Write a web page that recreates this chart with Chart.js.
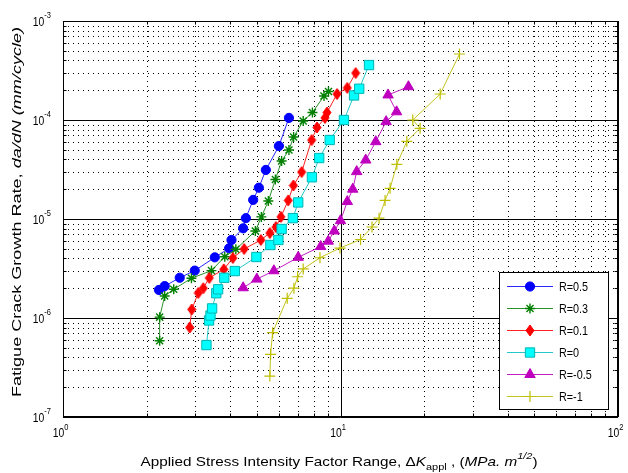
<!DOCTYPE html>
<html>
<head>
<meta charset="utf-8">
<script src="https://cdn.jsdelivr.net/npm/chart.js@4.4.0/dist/chart.umd.min.js"></script>
<style>
html,body{margin:0;padding:0;background:#fff;overflow:hidden;}
canvas{display:block;}
</style>
</head>
<body>
<canvas id="c" width="628" height="473"></canvas>
<script>
// ---------------- DATA ----------------
const seriesLabels = ['R=0.5', 'R=0.3', 'R=0.1', 'R=0', 'R=-0.5', 'R=-1'];

const K_R05 = [2.217, 2.325, 2.634, 2.984, 3.524, 3.968, 4.048, 4.459, 4.560, 4.845, 5.079, 5.383, 5.998, 6.520];
const dadN_R05 = [1.92e-6, 2.10e-6, 2.55e-6, 3.01e-6, 4.10e-6, 5.06e-6, 6.14e-6, 8.05e-6, 1.02e-5, 1.56e-5, 2.07e-5, 3.13e-5, 5.46e-5, 1.05e-4];

const K_R03 = [2.230, 2.230, 2.325, 2.506, 2.903, 3.428, 3.828, 4.196, 4.934, 5.186, 5.496, 5.826, 6.134, 6.520, 6.776, 7.338, 7.922, 8.719, 9.051];
const dadN_R03 = [5.90e-7, 1.02e-6, 1.67e-6, 1.95e-6, 2.52e-6, 3.01e-6, 4.16e-6, 4.94e-6, 7.57e-6, 1.05e-5, 1.52e-5, 2.51e-5, 3.85e-5, 4.98e-5, 6.73e-5, 9.77e-5, 1.19e-4, 1.75e-4, 1.94e-4];

const K_R01 = [2.862, 2.910, 3.072, 3.202, 3.366, 3.797, 4.093, 4.495, 5.164, 5.565, 5.851, 6.099, 6.481, 6.766, 7.245, 7.870, 8.226, 8.791, 8.939, 9.714, 10.58, 11.34];
const dadN_R01 = [8.02e-7, 1.22e-6, 1.79e-6, 2.00e-6, 2.54e-6, 3.10e-6, 4.04e-6, 4.98e-6, 6.14e-6, 7.22e-6, 8.30e-6, 1.05e-5, 1.54e-5, 2.18e-5, 2.98e-5, 6.28e-5, 8.40e-5, 1.05e-4, 1.19e-4, 1.83e-4, 2.11e-4, 2.98e-4];

const K_R0 = [3.288, 3.360, 3.400, 3.445, 3.567, 3.622, 3.813, 4.161, 4.976, 5.589, 5.973, 6.134, 6.737, 7.041, 7.889, 8.379, 9.142, 10.29, 11.19, 11.68, 12.67];
const dadN_R0 = [5.33e-7, 9.44e-7, 1.06e-6, 1.25e-6, 1.78e-6, 1.95e-6, 2.55e-6, 2.98e-6, 4.13e-6, 5.46e-6, 6.14e-6, 7.92e-6, 1.02e-5, 1.47e-5, 2.64e-5, 4.13e-5, 6.28e-5, 1.00e-4, 1.77e-4, 2.07e-4, 3.59e-4];

const K_Rm05 = [4.459, 4.995, 5.754, 7.041, 8.484, 9.036, 9.498, 10.00, 10.58, 11.07, 11.44, 12.33, 13.40, 14.60, 15.93, 14.84, 17.57];
const dadN_Rm05 = [2.02e-6, 2.47e-6, 3.00e-6, 4.10e-6, 5.27e-6, 5.97e-6, 7.57e-6, 9.62e-6, 1.50e-5, 2.00e-5, 3.01e-5, 3.94e-5, 6.04e-5, 9.62e-5, 1.21e-4, 1.79e-4, 2.17e-4];

const K_Rm1 = [5.565, 5.598, 5.692, 6.426, 6.795, 7.008, 7.338, 8.434, 9.958, 11.81, 12.99, 13.77, 14.47, 15.09, 15.96, 17.34, 19.36, 18.22, 22.87, 26.84];
const dadN_Rm1 = [2.59e-7, 4.30e-7, 7.11e-7, 1.58e-6, 2.00e-6, 2.61e-6, 3.13e-6, 4.06e-6, 5.09e-6, 6.21e-6, 8.30e-6, 1.02e-5, 1.54e-5, 2.04e-5, 3.57e-5, 6.09e-5, 8.24e-5, 1.00e-4, 1.83e-4, 4.64e-4];

// axis ranges and tick labels
const xRange = [1, 100];
const yRange = [1e-7, 1e-3];
const xTickValues = [1, 10, 100];
const xTickExps = ['0', '1', '2'];
const yTickValues = [1e-7, 1e-6, 1e-5, 1e-4, 1e-3];
const yTickExps = ['-7', '-6', '-5', '-4', '-3'];

const xTitleRuns = [
  {t: 'Applied Stress Intensity Factor Range, \u0394', it: false},
  {t: 'K', it: true},
  {t: 'appl', it: false, sub: true},
  {t: ' , (', it: false},
  {t: 'MPa. m', it: true},
  {t: '1/2', it: true, sup: true},
  {t: ')', it: false}
];
const yTitleRuns = [
  {t: 'Fatigue Crack Growth Rate, ', it: false},
  {t: 'da/dN (mm/cycle)', it: true}
];

// ---------------- STYLE ----------------
const FONT = '"Liberation Sans", Arial, Helvetica, sans-serif';

function makeDiamond(w, h, fill) {
  const c = document.createElement('canvas');
  c.width = w + 2; c.height = h + 2;
  const g = c.getContext('2d');
  g.fillStyle = fill; g.strokeStyle = fill; g.lineWidth = 1;
  g.beginPath();
  g.moveTo(c.width / 2, 1); g.lineTo(c.width - 1, c.height / 2);
  g.lineTo(c.width / 2, c.height - 1); g.lineTo(1, c.height / 2);
  g.closePath(); g.fill(); g.stroke();
  return c;
}
const diamondRed = makeDiamond(8, 11, '#ff0000');

const styles = [
  {line: '#2828ff', fill: '#0000ff', edge: '#0000ff', ps: 'circle', r: 4.6, bw: 1},
  {line: '#2a922a', fill: '#008000', edge: '#008000', ps: 'star', r: 5, bw: 1.4},
  {line: '#ff2020', fill: '#ff0000', edge: '#ff0000', ps: diamondRed, r: 5, bw: 0},
  {line: '#20c8c8', fill: '#00ffff', edge: '#00b4b4', ps: 'rect', r: 6.6, bw: 1},
  {line: '#c020c0', fill: '#bf00bf', edge: '#bf00bf', ps: 'triangle', r: 6, bw: 1},
  {line: '#c4c420', fill: '#bfbf00', edge: '#bfbf00', ps: 'cross', r: 5.5, bw: 1.2}
];

const Ks = [K_R05, K_R03, K_R01, K_R0, K_Rm05, K_Rm1];
const Ds = [dadN_R05, dadN_R03, dadN_R01, dadN_R0, dadN_Rm05, dadN_Rm1];

const datasets = seriesLabels.map((lab, i) => ({
  label: lab,
  data: Ks[i].map((k, j) => ({x: k, y: Ds[i][j]})),
  showLine: true,
  borderColor: styles[i].line,
  borderWidth: 1,
  tension: 0,
  pointStyle: styles[i].ps,
  pointRadius: styles[i].r,
  pointBackgroundColor: styles[i].fill,
  pointBorderColor: styles[i].edge,
  pointBorderWidth: styles[i].bw,
  order: 5 - i
}));

// ---------------- TEXT HELPERS ----------------
function fontFor(r, base) {
  const size = (r.sub || r.sup) ? base * 0.72 : base;
  return (r.it ? 'italic ' : '') + size.toFixed(1) + 'px ' + FONT;
}
function runsWidth(ctx, runs, base) {
  let w = 0;
  for (const r of runs) { ctx.font = fontFor(r, base); w += ctx.measureText(r.t).width; }
  return w;
}
function drawRuns(ctx, runs, base, sx, anchorX, baseline, align) {
  const w = runsWidth(ctx, runs, base) * sx;
  let x0 = anchorX;
  if (align === 'center') x0 = anchorX - w / 2;
  else if (align === 'right') x0 = anchorX - w;
  ctx.save();
  ctx.translate(x0, baseline);
  ctx.scale(sx, 1);
  ctx.textAlign = 'left';
  ctx.textBaseline = 'alphabetic';
  let cx = 0;
  for (const r of runs) {
    ctx.font = fontFor(r, base);
    const dy = r.sup ? -base * 0.55 : (r.sub ? base * 0.3 : 0);
    ctx.fillText(r.t, cx, dy);
    cx += ctx.measureText(r.t).width;
  }
  ctx.restore();
}

// ---------------- PLUGIN ----------------
const matlabAxes = {
  id: 'matlabAxes',
  beforeDatasetsDraw(chart) {
    const {ctx, chartArea: a, scales: {x, y}} = chart;
    ctx.save();
    ctx.fillStyle = '#fff';
    ctx.fillRect(a.left, a.top, a.right - a.left, a.bottom - a.top);
    ctx.strokeStyle = '#000';
    ctx.lineWidth = 1;
    // minor dotted grid
    ctx.setLineDash([1, 4]);
    for (let e = 0; e < 2; e++) {
      for (let m = 2; m <= 9; m++) {
        const px = Math.round(x.getPixelForValue(m * Math.pow(10, e))) + 0.5;
        ctx.beginPath(); ctx.moveTo(px, a.bottom); ctx.lineTo(px, a.top); ctx.stroke();
      }
    }
    for (let e = -7; e < -3; e++) {
      for (let m = 2; m <= 9; m++) {
        const py = Math.round(y.getPixelForValue(m * Math.pow(10, e))) + 0.5;
        ctx.beginPath(); ctx.moveTo(a.left, py); ctx.lineTo(a.right, py); ctx.stroke();
      }
    }
    // major solid grid
    ctx.setLineDash([]);
    for (const v of xTickValues) {
      const px = Math.round(x.getPixelForValue(v)) + 0.5;
      ctx.beginPath(); ctx.moveTo(px, a.bottom); ctx.lineTo(px, a.top); ctx.stroke();
    }
    for (const v of yTickValues) {
      const py = Math.round(y.getPixelForValue(v)) + 0.5;
      ctx.beginPath(); ctx.moveTo(a.left, py); ctx.lineTo(a.right, py); ctx.stroke();
    }
    ctx.restore();
  },
  afterDatasetsDraw(chart) {
    const {ctx, chartArea: a, scales: {x, y}} = chart;
    ctx.save();
    ctx.strokeStyle = '#000';
    ctx.lineWidth = 1;
    const L = Math.round(a.left) + 0.5, R = Math.round(a.right) - 0.5;
    const T = Math.round(a.top) + 0.5, B = Math.round(a.bottom) - 0.5;
    ctx.strokeRect(L, T, R - L, B - T);
    // ticks (inward, all four sides)
    for (let e = 0; e <= 2; e++) {
      for (let m = 1; m <= 9; m++) {
        const v = m * Math.pow(10, e);
        if (v > xRange[1]) break;
        const len = m === 1 ? 6 : 3;
        const px = Math.round(x.getPixelForValue(v)) + 0.5;
        ctx.beginPath();
        ctx.moveTo(px, B); ctx.lineTo(px, B - len);
        ctx.moveTo(px, T); ctx.lineTo(px, T + len);
        ctx.stroke();
      }
    }
    for (let e = -7; e <= -3; e++) {
      for (let m = 1; m <= 9; m++) {
        const v = m * Math.pow(10, e);
        if (v > yRange[1] * 1.0001) break;
        const len = m === 1 ? 6 : 3;
        const py = Math.round(y.getPixelForValue(v)) + 0.5;
        ctx.beginPath();
        ctx.moveTo(L, py); ctx.lineTo(L + len, py);
        ctx.moveTo(R, py); ctx.lineTo(R - len, py);
        ctx.stroke();
      }
    }
    // tick labels
    ctx.fillStyle = '#000';
    xTickValues.forEach((v, i) => {
      const px = x.getPixelForValue(v);
      drawRuns(ctx, [{t: '10'}, {t: xTickExps[i], sup: true}], 13, 0.8, px - 2.5, 437, 'center');
    });
    yTickValues.forEach((v, i) => {
      const py = y.getPixelForValue(v);
      drawRuns(ctx, [{t: '10'}, {t: yTickExps[i], sup: true}], 13, 0.8, 51, py + 4.5, 'right');
    });
    // axis titles
    {
      const base = 13.5;
      const w = runsWidth(ctx, xTitleRuns, base);
      const sx = 397 / w;
      drawRuns(ctx, xTitleRuns, base, sx, 339, 466, 'center');
    }
    {
      const base = 13.5;
      const w = runsWidth(ctx, yTitleRuns, base);
      const sx = 370 / w;
      ctx.save();
      ctx.translate(21, 212);
      ctx.rotate(-Math.PI / 2);
      drawRuns(ctx, yTitleRuns, base, sx, 0, 0, 'center');
      ctx.restore();
    }
    // legend
    const lx0 = 499, ly0 = 272, lx1 = 609, ly1 = 410;
    ctx.fillStyle = '#fff';
    ctx.fillRect(lx0, ly0, lx1 - lx0, ly1 - ly0);
    ctx.strokeStyle = '#000';
    ctx.strokeRect(lx0 + 0.5, ly0 + 0.5, lx1 - lx0 - 1, ly1 - ly0 - 1);
    chart.data.datasets.forEach((ds, i) => {
      const cy = 286 + i * 22;
      ctx.strokeStyle = ds.borderColor;
      ctx.lineWidth = 1;
      ctx.beginPath(); ctx.moveTo(507, cy + 0.5); ctx.lineTo(553, cy + 0.5); ctx.stroke();
      ctx.fillStyle = ds.pointBackgroundColor;
      ctx.strokeStyle = ds.pointBorderColor;
      ctx.lineWidth = ds.pointBorderWidth || 1;
      Chart.helpers.drawPoint(ctx, {
        pointStyle: ds.pointStyle, radius: ds.pointRadius, rotation: 0,
        borderWidth: ds.pointBorderWidth
      }, 530, cy + 0.5);
      ctx.fillStyle = '#000';
      drawRuns(ctx, [{t: ds.label}], 13.5, 0.8, 559, cy + 5, 'left');
    });
    ctx.restore();
  }
};

new Chart(document.getElementById('c'), {
  type: 'scatter',
  data: {datasets},
  options: {
    responsive: false,
    devicePixelRatio: 1,
    animation: false,
    layout: {padding: {left: 63, right: 10, top: 21, bottom: 56}},
    plugins: {legend: {display: false}, tooltip: {enabled: false}},
    scales: {
      x: {type: 'logarithmic', min: xRange[0], max: xRange[1], display: false},
      y: {type: 'logarithmic', min: yRange[0], max: yRange[1], display: false}
    }
  },
  plugins: [matlabAxes]
});
</script>
</body>
</html>
